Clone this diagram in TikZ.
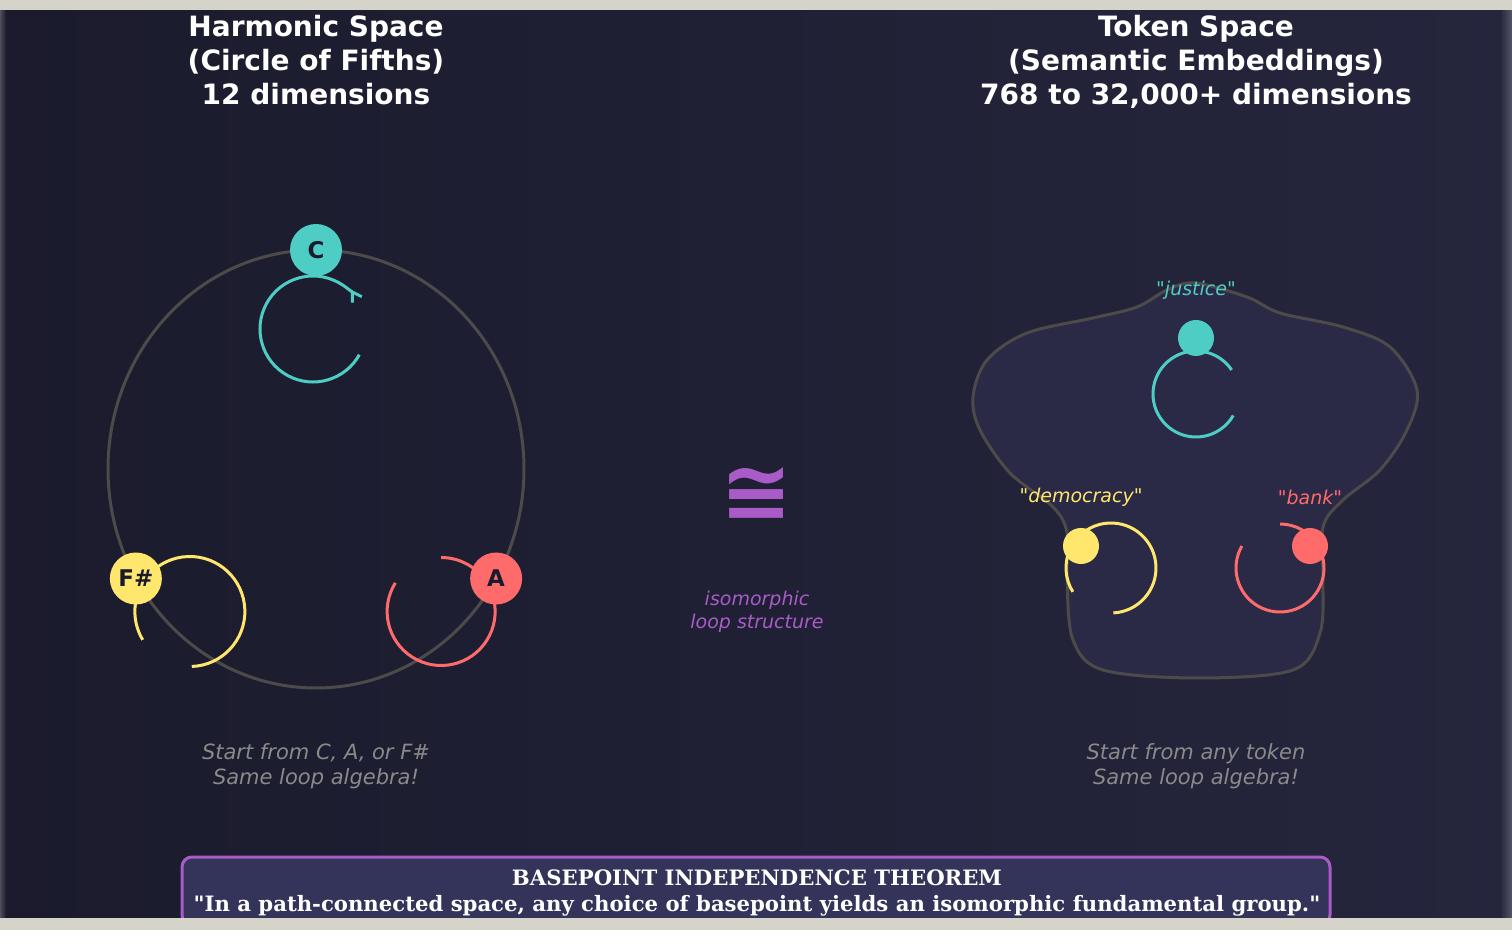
\documentclass[tikz,border=0pt]{standalone}
\usepackage{fontspec}
\setsansfont{DejaVu Sans}[Ligatures=TeXOff]
\newfontfamily\theoremFont{DejaVu Serif}[Ligatures=TeXOff]
\usepackage{xcolor}
\definecolor{panelLeft}{HTML}{1B1B2D}
\definecolor{panelRight}{HTML}{25253D}
\definecolor{frameGrey}{HTML}{D6D3CB}
\definecolor{ringGrey}{HTML}{4D4B4A}
\definecolor{blobFill}{HTML}{2A2946}
\definecolor{noteTeal}{HTML}{4ECDC4}
\definecolor{noteCoral}{HTML}{FF6B6B}
\definecolor{noteYellow}{HTML}{FFE66D}
\definecolor{darkText}{HTML}{1A1A2E}
\definecolor{isoPurple}{HTML}{A95BC8}
\definecolor{captionGrey}{HTML}{8A8A8A}
\definecolor{boxFill}{HTML}{34345A}
\usepackage{tikz}
\usetikzlibrary{arrows.meta, positioning, calc}

\begin{document}
\begin{tikzpicture}[
    x=1pt, y=1pt,
    titleNode/.style={font=\sffamily\bfseries\fontsize{28}{34}\selectfont, text=white, align=center},
    capNode/.style={font=\sffamily\itshape\fontsize{21}{25}\selectfont, text=captionGrey, align=center},
    noteNode/.style={circle, minimum size=52pt, inner sep=0pt, font=\sffamily\bfseries\fontsize{23}{23}\selectfont, text=darkText},
    tokNode/.style={circle, minimum size=36pt, inner sep=0pt},
    tokLabel/.style={font=\sffamily\itshape\fontsize{19}{19}\selectfont},
    ringLine/.style={draw=ringGrey, line width=3pt},
    loopLine/.style={line width=3pt}
]
\useasboundingbox (0,0) rectangle (1512,945);

% Frame and panel
\fill[white] (0,0) rectangle (1512,945);
\shade[left color=panelLeft, right color=panelRight] (0,27) rectangle (1512,935);
\shade[left color=white!22!panelLeft, right color=panelLeft] (0,27) rectangle (6,935);
\shade[left color=panelRight, right color=white!22!panelRight] (1500,27) rectangle (1512,935);
\fill[frameGrey] (0,935) rectangle (1512,945);

% Titles
\node[titleNode] (titleL) at (316,885) {Harmonic Space\\(Circle of Fifths)\\12 dimensions};
\node[titleNode] (titleR) at (1196,883) {Token Space\\(Semantic Embeddings)\\768 to 32,000+ dimensions};

% Circle of fifths
\coordinate (ringCtr) at (316,476);
\draw[ringLine] (ringCtr) ellipse[x radius=208, y radius=219];
\coordinate (posC) at ($(ringCtr)+(90:208 and 219)$);
\coordinate (posA) at ($(ringCtr)+(-30:208 and 219)$);
\coordinate (posFs) at ($(ringCtr)+(210:208 and 219)$);

\draw[loopLine, noteTeal, -{Straight Barb[reversed, length=9pt, width=11pt]}]
    ($(posC)+(-3,-79)$) ++(331:53) arc[start angle=331, end angle=32, radius=53];
\draw[loopLine, noteCoral] ($(posA)+(-55,-33)$) ++(148:54) arc[start angle=148, end angle=450, radius=54];
\draw[loopLine, noteYellow] ($(posFs)+(54,-33)$) ++(-88:55) arc[start angle=-88, end angle=211, radius=55];

\node[noteNode, fill=noteTeal] (noteC) at (posC) {C};
\node[noteNode, fill=noteCoral] (noteA) at (posA) {A};
\node[noteNode, fill=noteYellow] (noteFs) at (posFs) {F\#};

% Token space blob
\draw[ringLine, fill=blobFill] plot[smooth cycle, tension=0.55] coordinates {
    (1195,662) (1247,648) (1280,632) (1343,618) (1390,598) (1417,555)
    (1407,515) (1380,475) (1343,445) (1323,418) (1323,365) (1320,312)
    (1293,275) (1197,267) (1103,275) (1073,305) (1067,365) (1067,412)
    (1053,438) (1010,472) (980,515) (973,548) (987,585) (1027,612)
    (1093,627) (1137,638) (1167,655)};

\coordinate (posJustice) at (1196,607);
\coordinate (posDemo) at (1081,399);
\coordinate (posBank) at (1310,399);

\draw[loopLine, noteTeal] ($(posJustice)+(0,-56)$) ++(34:43) arc[start angle=34, end angle=330, radius=43];
\draw[loopLine, noteYellow] ($(posDemo)+(30,-22)$) ++(-87:45) arc[start angle=-87, end angle=212, radius=45];
\draw[loopLine, noteCoral] ($(posBank)+(-30,-22)$) ++(150:44) arc[start angle=150, end angle=450, radius=44];

\node[tokNode, fill=noteTeal] (tokJustice) at (posJustice) {};
\node[tokNode, fill=noteYellow] (tokDemo) at (posDemo) {};
\node[tokNode, fill=noteCoral] (tokBank) at (posBank) {};

\node[tokLabel, text=noteTeal] (lblJustice) at (1196,655) {"justice"};
\node[tokLabel, text=noteYellow] (lblDemo) at (1081,448) {"democracy"};
\node[tokLabel, text=noteCoral] (lblBank) at (1310,448) {"bank"};

% Isomorphism
\node[font=\sffamily\bfseries\fontsize{86}{86}\selectfont, text=isoPurple] (iso) at (757,451) {≅};
\node[font=\sffamily\itshape\fontsize{19}{23}\selectfont, text=isoPurple, align=center] (isoText) at (757,333) {isomorphic\\loop structure};

% Captions
\node[capNode] (capL) at (316,179) {Start from C, A, or F\#\\Same loop algebra!};
\node[capNode] (capR) at (1196,179) {Start from any token\\Same loop algebra!};

% Theorem box
\draw[draw=isoPurple, line width=3pt, fill=boxFill, rounded corners=10pt] (182,20) rectangle (1330,88);
\node[font=\theoremFont\bfseries\fontsize{21.2}{26}\selectfont, text=white, align=center] (theorem) at (757,52)
    {BASEPOINT INDEPENDENCE THEOREM\\"In a path-connected space, any choice of basepoint yields an isomorphic fundamental group."};

\fill[frameGrey] (0,15) rectangle (1512,27);
\fill[white] (0,0) rectangle (1512,15);

\end{tikzpicture}
\end{document}
